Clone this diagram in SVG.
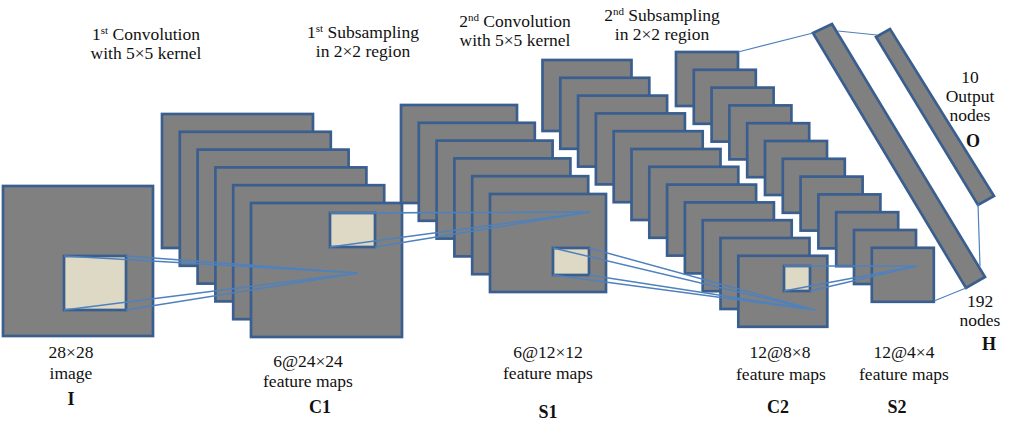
<svg xmlns="http://www.w3.org/2000/svg" width="1025" height="435" viewBox="0 0 1025 435">
<style>
.m{fill:#808080;stroke:#3a5f8f;stroke-width:2.7}
.k{fill:#ddd9c4;stroke:#3a5f8f;stroke-width:2.7}
.c{stroke:#4f81bd;stroke-width:1.5;fill:none}
.b{font-weight:bold;font-size:18px}
.s{font-size:11px}
</style>
<rect width="1025" height="435" fill="#fff"/>
<g id="I">
<rect class="m" x="3" y="186" width="150" height="150"/>
<rect class="k" x="64" y="256" width="62" height="54"/>
</g>
<g id="C1">
<rect class="m" x="162" y="114" width="151" height="134"/>
<rect class="m" x="179.8" y="131.8" width="151" height="134"/>
<rect class="m" x="197.6" y="149.6" width="151" height="134"/>
<rect class="m" x="215.4" y="167.4" width="151" height="134"/>
<rect class="m" x="233.2" y="185.2" width="151" height="134"/>
<rect class="m" x="251" y="203" width="151" height="134"/>
<rect class="k" x="330" y="213" width="45" height="34"/>
</g>
<g id="S1">
<rect class="m" x="401" y="105" width="116" height="98"/>
<rect class="m" x="418.8" y="122.8" width="116" height="98"/>
<rect class="m" x="436.6" y="140.6" width="116" height="98"/>
<rect class="m" x="454.4" y="158.4" width="116" height="98"/>
<rect class="m" x="472.2" y="176.2" width="116" height="98"/>
<rect class="m" x="490" y="194" width="116" height="98"/>
<rect class="k" x="553" y="248" width="36" height="27"/>
</g>
<g id="C2">
<rect class="m" x="542.5" y="60" width="89" height="71"/>
<rect class="m" x="560.3" y="77.8" width="89" height="71"/>
<rect class="m" x="578.1" y="95.6" width="89" height="71"/>
<rect class="m" x="595.9" y="113.4" width="89" height="71"/>
<rect class="m" x="613.7" y="131.2" width="89" height="71"/>
<rect class="m" x="631.5" y="149" width="89" height="71"/>
<rect class="m" x="649.3" y="166.8" width="89" height="71"/>
<rect class="m" x="667.1" y="184.6" width="89" height="71"/>
<rect class="m" x="684.9" y="202.4" width="89" height="71"/>
<rect class="m" x="702.7" y="220.2" width="89" height="71"/>
<rect class="m" x="720.5" y="238" width="89" height="71"/>
<rect class="m" x="738.3" y="255.8" width="89" height="71"/>
<rect class="k" x="784" y="266" width="26" height="25"/>
</g>
<g id="S2">
<rect class="m" x="676" y="52" width="62" height="54"/>
<rect class="m" x="693.8" y="69.8" width="62" height="54"/>
<rect class="m" x="711.6" y="87.6" width="62" height="54"/>
<rect class="m" x="729.4" y="105.4" width="62" height="54"/>
<rect class="m" x="747.2" y="123.2" width="62" height="54"/>
<rect class="m" x="765" y="141" width="62" height="54"/>
<rect class="m" x="782.8" y="158.8" width="62" height="54"/>
<rect class="m" x="800.6" y="176.6" width="62" height="54"/>
<rect class="m" x="818.4" y="194.4" width="62" height="54"/>
<rect class="m" x="836.2" y="212.2" width="62" height="54"/>
<rect class="m" x="854" y="230" width="62" height="54"/>
<rect class="m" x="871.8" y="247.8" width="62" height="54"/>
</g>
<g id="H">
<polygon class="m" points="813,33 832,24 985,277 966,288"/>
</g>
<g id="O">
<polygon class="m" points="876,37 890,29 994,196 978,205"/>
</g>
<g id="connectors" class="c">
<path d="M64,256L358,273M126,256L358,273M64,310L358,273M126,310L358,273"/>
<path d="M330,213L590,212M375,213L590,212M330,247L590,212M375,247L590,212"/>
<path d="M553,248L815,310M589,248L815,310M553,275L815,310M589,275L815,310"/>
<path d="M784,266L917,266M810,266L917,266M784,291L917,266M810,291L917,266"/>
<path d="M738,52L813,33M838,31L877,35M978,204L980,266M934,301L966,288" stroke-width="1.2"/>
</g>
<g id="labels" font-family="Liberation Serif, serif" font-size="17.5" fill="#111" text-anchor="middle">
<text x="146" y="40">1<tspan class="s" dy="-6">st</tspan><tspan dy="6"> Convolution</tspan></text>
<text x="146" y="59">with 5×5 kernel</text>
<text x="363" y="38">1<tspan class="s" dy="-6">st</tspan><tspan dy="6"> Subsampling</tspan></text>
<text x="363" y="57">in 2×2 region</text>
<text x="515" y="27">2<tspan class="s" dy="-6">nd</tspan><tspan dy="6"> Convolution</tspan></text>
<text x="515" y="46">with 5×5 kernel</text>
<text x="662" y="21">2<tspan class="s" dy="-6">nd</tspan><tspan dy="6"> Subsampling</tspan></text>
<text x="662" y="40">in 2×2 region</text>
<text x="970" y="83">10</text>
<text x="970" y="102">Output</text>
<text x="970" y="121">nodes</text>
<text x="973" y="147" class="b">O</text>
<text x="980" y="307">192</text>
<text x="980" y="326">nodes</text>
<text x="989" y="350" class="b">H</text>
<text x="71" y="358">28×28</text>
<text x="71" y="379">image</text>
<text x="71" y="405" class="b">I</text>
<text x="308" y="367">6@24×24</text>
<text x="308" y="387">feature maps</text>
<text x="320" y="413" class="b">C1</text>
<text x="548" y="358">6@12×12</text>
<text x="548" y="379">feature maps</text>
<text x="548" y="418" class="b">S1</text>
<text x="780" y="358">12@8×8</text>
<text x="781" y="380">feature maps</text>
<text x="778" y="413" class="b">C2</text>
<text x="904" y="358">12@4×4</text>
<text x="904" y="380">feature maps</text>
<text x="897" y="413" class="b">S2</text>
</g>
</svg>
